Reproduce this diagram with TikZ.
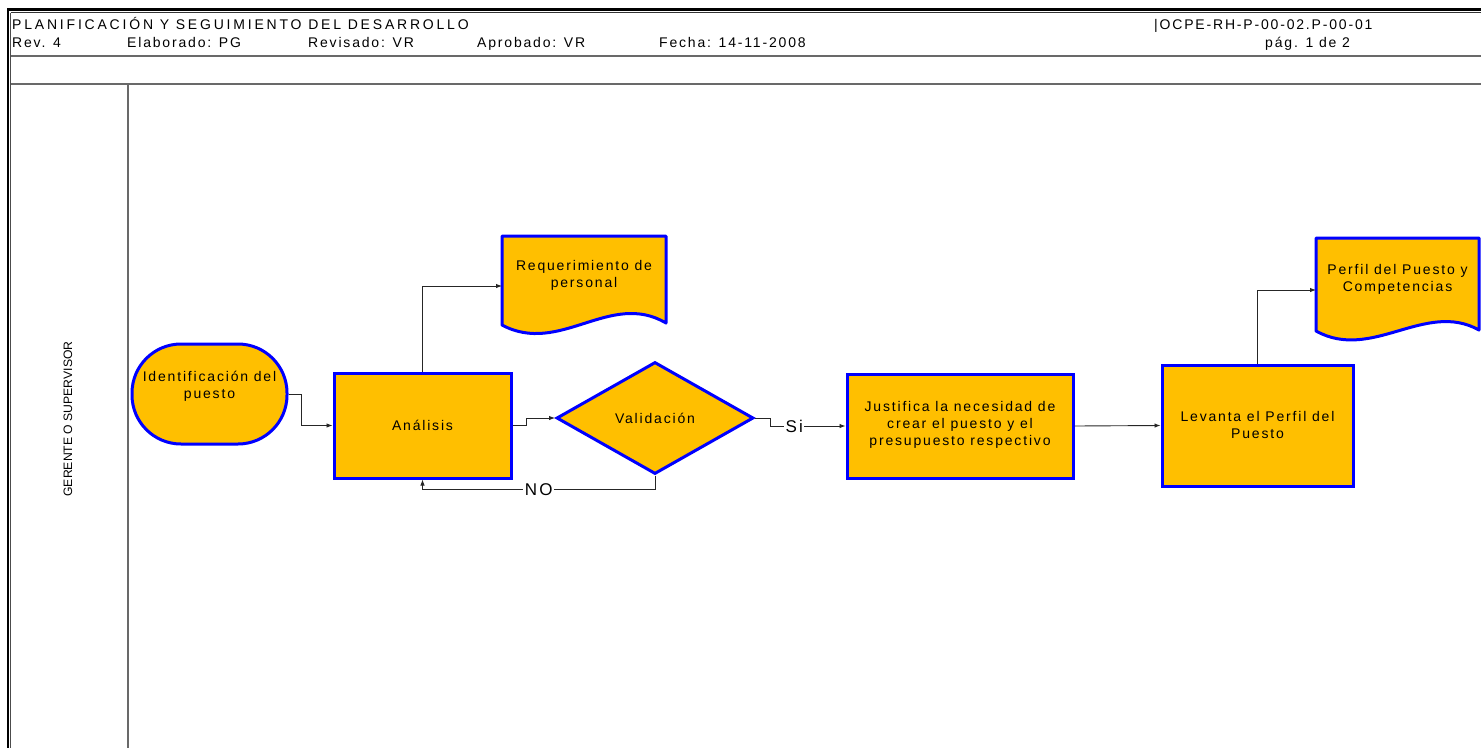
\documentclass[tikz,border=0pt]{standalone}
\usepackage{fontspec}
\setmainfont{Liberation Sans}
\newfontfamily\spaced[LetterSpace=13]{Liberation Sans}
\newfontfamily\widespaced[LetterSpace=20]{Liberation Sans}
\usetikzlibrary{arrows.meta,shapes.geometric,calc}
\definecolor{boxfill}{RGB}{255,191,0}
\definecolor{boxline}{RGB}{0,0,255}
\definecolor{rule}{RGB}{105,105,105}
\tikzset{
  txt/.style={font=\spaced\fontsize{14}{17}\selectfont, align=center, inner sep=0},
  hdr/.style={font=\spaced\fontsize{14}{15}\selectfont, anchor=base west, inner sep=0},
  box/.style={draw=boxline, line width=3, fill=boxfill, inner sep=0},
  docshape/.style={draw=boxline, line width=3, fill=boxfill, line join=round},
  shell/.style={inner sep=0, outer sep=0},
  flow/.style={draw=black!85, line width=0.9, -{Latex[length=6,width=4.5]}},
  lbl/.style={font=\spaced\fontsize{17}{18}\selectfont, fill=white, inner sep=1.5},
}
\begin{document}
\begin{tikzpicture}[x=1pt,y=-1pt]
\useasboundingbox (0,0) rectangle (1481,748);

% page frame and header rules
\draw[line width=2.6, black] (7,9.5) -- (1481,9.5);
\draw[line width=2.6, black] (8,8.2) -- (8,748);
\draw[line width=1, black!80] (10.8,12.6) -- (1481,12.6);
\draw[line width=1, black!70] (10.8,12.6) -- (10.8,748);
\draw[line width=1.6, rule] (10.8,56) -- (1481,56);
\draw[line width=1.6, rule] (10.8,84) -- (1481,84);
\draw[line width=1.6, rule] (128,84) -- (128,748);

% header texts
\node[hdr, font=\widespaced\fontsize{14}{15}\selectfont] (title) at (12,29) {PLANIFICACIÓN Y SEGUIMIENTO DEL DESARROLLO};
\node[hdr] (code) at (1154,29) {|OCPE-RH-P-00-02.P-00-01};
\node[hdr] (rev) at (12,47.5) {Rev. 4};
\node[hdr] (elab) at (127,47.5) {Elaborado: PG};
\node[hdr] (revi) at (308,47.5) {Revisado: VR};
\node[hdr] (apro) at (477,47.5) {Aprobado: VR};
\node[hdr] (fecha) at (659,47.5) {Fecha: 14-11-2008};
\node[hdr] (pag) at (1265,47.5) {pág. 1 de 2};

% swimlane label
\node[rotate=90, font=\fontsize{12.2}{14}\selectfont, inner sep=0] (lane) at (68,419) {GERENTE O SUPERVISOR};

% process shapes
\node[box, rounded corners=49, minimum width=155, minimum height=100] (idp) at (209.5,394) {};
\node[txt] (idpt) at (209.5,386) {Identificación del\\puesto};

\node[box, minimum width=177, minimum height=105] (ana) at (422.5,425.5) {};
\node[txt] (anat) at (422.5,425) {Análisis};

\node[box, diamond, minimum width=197, minimum height=112, aspect=1.76] (val) at (655,418) {};
\node[txt] (valt) at (655,418) {Validación};

\node[box, minimum width=226, minimum height=104] (jus) at (960,426) {};
\node[txt] (just) at (960,425) {Justifica la necesidad de\\crear el puesto y el\\presupuesto respectivo};

\node[box, minimum width=191, minimum height=121] (lev) at (1257.5,425.5) {};
\node[txt] (levt) at (1257.5,425) {Levanta el Perfil del\\Puesto};

% document shapes
\path[docshape] (502,236) -- (666,236) -- (666,323)
  .. controls (610,290) and (560,356) .. (502,325) -- cycle;
\node[shell, minimum width=164, minimum height=100] (req) at (584,286) {};
\node[txt] (reqt) at (584,275) {Requerimiento de\\personal};

\path[docshape] (1316,238) -- (1479,238) -- (1479,330)
  .. controls (1425,300) and (1372,362) .. (1316,331) -- cycle;
\node[shell, minimum width=163, minimum height=104] (per) at (1397.5,290) {};
\node[txt] (pert) at (1397.5,279) {Perfil del Puesto y\\Competencias};

% connectors
\draw[flow] (idp.east) -- ++(13,0) |- (ana.west);
\draw[flow] (ana.east) -- ++(14,0) |- (val.west);
\draw[flow] (val.east) -- ++(15,0) |- node[lbl, pos=0.66] (si) {Si} (jus.west);
\draw[flow] (val.south) -- ++(0,14) -| node[lbl, pos=0.25] (no) {NO} (ana.south);
\draw[flow] (ana.north) |- (req.west);
\draw[flow] (jus.east) -- (lev.west);
\draw[flow] (lev.north) |- (per.west);
\end{tikzpicture}
\end{document}
